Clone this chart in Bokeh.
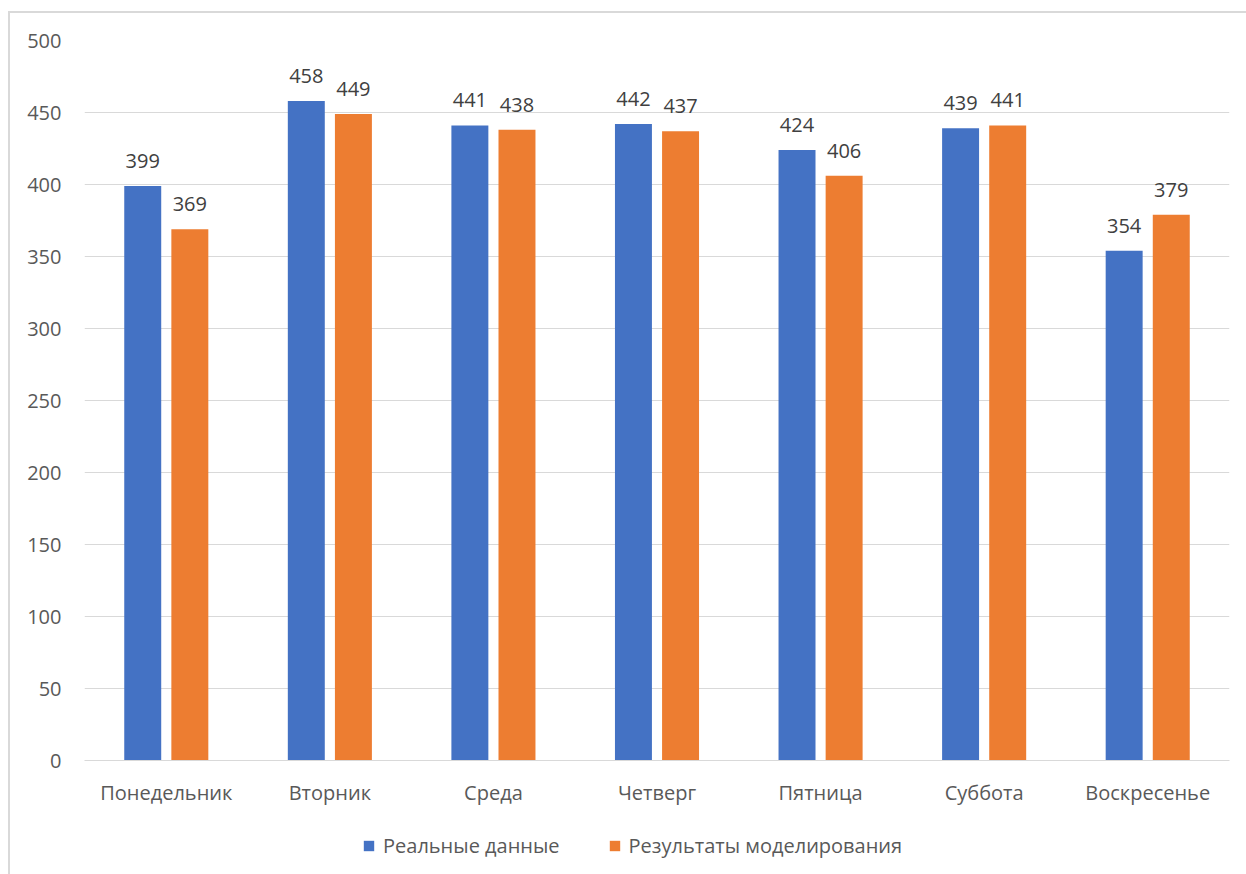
from bokeh.plotting import figure
from bokeh.models import ColumnDataSource, FactorRange, Range1d, Legend, LegendItem, FixedTicker, LabelSet, Spacer
from bokeh.core.properties import value
from bokeh.transform import dodge
from bokeh.layouts import column, row
from bokeh.embed import file_html
from bokeh.resources import INLINE

days = ["Понедельник", "Вторник", "Среда", "Четверг", "Пятница", "Суббота", "Воскресенье"]
real = [399, 458, 441, 442, 424, 439, 354]
model = [369, 449, 438, 437, 406, 441, 379]
series_names = ["Реальные данные", "Результаты моделирования"]
y_ticks = [0, 50, 100, 150, 200, 250, 300, 350, 400, 450, 500]

BLUE = "#4472C4"
ORANGE = "#ED7D31"
FONT = "Open Sans"
FS = "20px"
BORDER = "2px solid #d9d9d9"

src = ColumnDataSource(dict(day=days, real=real, model=model,
                            real_txt=[str(v) for v in real],
                            model_txt=[str(v) for v in model]))

p = figure(x_range=FactorRange(*days, range_padding=0), y_range=Range1d(0, 500),
           width=1238, height=809, output_backend="svg", toolbar_location=None,
           min_border_left=74, min_border_right=19, min_border_top=27, min_border_bottom=62)
p.styles = {"border-left": BORDER, "border-top": BORDER}

bw = 0.226
off = 0.144
p.vbar(x=dodge("day", -off, range=p.x_range), top="real", width=bw, source=src,
       fill_color=BLUE, line_color=None)
p.vbar(x=dodge("day", off, range=p.x_range), top="model", width=bw, source=src,
       fill_color=ORANGE, line_color=None)

for col, o in (("real_txt", -off), ("model_txt", off)):
    lab = LabelSet(x=dodge("day", o, range=p.x_range), y=col.replace("_txt", ""), text=col,
                   source=src, text_align="center", text_baseline="bottom", y_offset=18,
                   text_font=value(FONT), text_font_size=value(FS), text_color="#404040")
    p.add_layout(lab)

p.outline_line_color = None
p.xgrid.grid_line_color = None
p.ygrid.grid_line_color = "#d9d9d9"
p.ygrid.grid_line_width = 1
p.yaxis.ticker = FixedTicker(ticks=y_ticks)
p.yaxis.axis_line_color = None
p.yaxis.major_tick_line_color = None
p.yaxis.minor_tick_line_color = None
p.yaxis.major_label_standoff = 17
p.xaxis.axis_line_color = "#d9d9d9"
p.xaxis.major_tick_line_color = None
p.xaxis.minor_tick_line_color = None
p.xaxis.major_label_standoff = 12
for ax in (p.xaxis[0], p.yaxis[0]):
    ax.major_label_text_font = FONT
    ax.major_label_text_font_size = FS
    ax.major_label_text_color = "#595959"

# legend strip below the chart (its bars sit below the strip's visible range,
# past the window's bottom edge; only their legend swatches show)
lp = figure(x_range=p.x_range, y_range=Range1d(1000, 1001), width=1238, height=60,
            output_backend="svg", toolbar_location=None,
            x_axis_location=None, y_axis_location=None,
            min_border_left=0, min_border_right=0, min_border_top=0, min_border_bottom=0)
lp.styles = {"border-left": BORDER}
lp.grid.visible = False
lp.outline_line_color = None
l1 = lp.vbar(x=dodge("day", -off, range=lp.x_range), top="real", width=bw,
             source=src, fill_color=BLUE, line_color=None)
l2 = lp.vbar(x=dodge("day", off, range=lp.x_range), top="model", width=bw,
             source=src, fill_color=ORANGE, line_color=None)
legend = Legend(items=[LegendItem(label=series_names[0], renderers=[l1]),
                       LegendItem(label=series_names[1], renderers=[l2])],
                orientation="horizontal", location=(278, 21),
                label_text_font=FONT, label_text_font_size=FS, label_text_color="#595959",
                glyph_width=13, glyph_height=13, label_standoff=8, spacing=48,
                padding=0, margin=0, border_line_color=None, background_fill_alpha=0)
lp.add_layout(legend, "center")

layout = column(Spacer(height=11), row(Spacer(width=8), column(p, lp, spacing=0)), spacing=0)
open("out.html", "w").write(file_html(layout, INLINE))
